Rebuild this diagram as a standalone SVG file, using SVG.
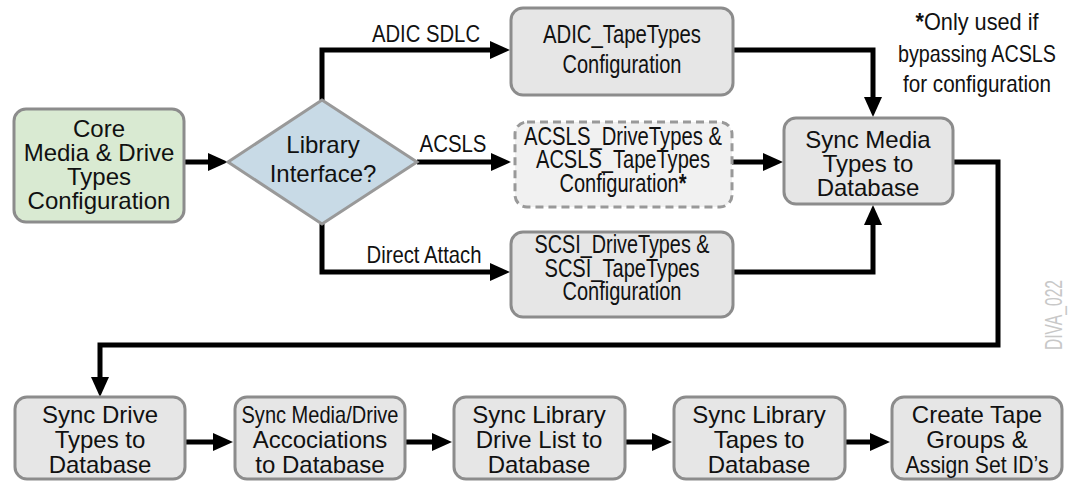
<svg xmlns="http://www.w3.org/2000/svg" width="1070" height="481" viewBox="0 0 1070 481">
<defs>
<marker id="ah" viewBox="0 0 20 18" markerWidth="20" markerHeight="18" refX="8" refY="9" orient="auto" markerUnits="userSpaceOnUse">
<path d="M0,0 L20,9 L0,18 z" fill="#000"/>
</marker>
<style>
.box{fill:#e6e6e6;stroke:#8c8c8c;stroke-width:3}
.core{fill:#d9ead2;stroke:#8c8c8c;stroke-width:3}
.dia{fill:#c8dae6;stroke:#999;stroke-width:3}
.dash{fill:#f1f1f1;stroke:#999;stroke-width:3;stroke-dasharray:8 5}
.con{fill:none;stroke:#000;stroke-width:5;marker-end:url(#ah)}
.t{font-family:"Liberation Sans",Arial,sans-serif;font-size:24px;fill:#111;text-anchor:middle}
.n{font-family:"Liberation Sans",Arial,sans-serif;font-size:25px;fill:#111;text-anchor:middle}
.lbl{font-family:"Liberation Sans",Arial,sans-serif;font-size:24px;fill:#111;text-anchor:middle}
.wm{font-family:"Liberation Sans",Arial,sans-serif;font-size:23px;fill:#c8c8c8;text-anchor:middle}
</style>
</defs>
<rect width="1070" height="481" fill="#fff"/>
<g id="connectors">
<path class="con" d="M184,162 H216"/>
<path class="con" d="M322,100 V50 H498"/>
<path class="con" d="M417,162 H499"/>
<path class="con" d="M322,224 V272 H498"/>
<path class="con" d="M733,50 H873 V105"/>
<path class="con" d="M732,162 H771"/>
<path class="con" d="M733,272 H873 V217"/>
<path class="con" d="M953,162 H998 V345 H100 V385"/>
<path class="con" d="M185,442 H221"/>
<path class="con" d="M405,442 H440"/>
<path class="con" d="M625,442 H660"/>
<path class="con" d="M845,442 H878"/>
<text class="lbl" x="426" y="42" textLength="108" lengthAdjust="spacingAndGlyphs">ADIC SDLC</text>
<text class="lbl" x="453" y="152" textLength="67" lengthAdjust="spacingAndGlyphs">ACSLS</text>
<text class="lbl" x="424" y="263" textLength="115" lengthAdjust="spacingAndGlyphs">Direct Attach</text>
</g>
<g id="core">
<rect class="core" x="14" y="109" width="170" height="113" rx="12"/>
<text class="t" x="99" y="137">Core</text>
<text class="t" x="99" y="161">Media &amp; Drive</text>
<text class="t" x="99" y="185">Types</text>
<text class="t" x="99" y="209">Configuration</text>
</g>
<g id="library">
<polygon class="dia" points="228,162 322,100 417,162 322,224"/>
<text class="t" x="323" y="153">Library</text>
<text class="t" x="323" y="182">Interface?</text>
</g>
<g id="adic">
<rect class="box" x="511" y="8" width="222" height="87" rx="12"/>
<text class="n" x="622" y="43" textLength="158" lengthAdjust="spacingAndGlyphs">ADIC_TapeTypes</text>
<text class="n" x="622" y="73" textLength="119" lengthAdjust="spacingAndGlyphs">Configuration</text>
</g>
<g id="acsls">
<rect class="dash" x="515" y="122" width="217" height="85" rx="12"/>
<text class="n" x="623" y="145" textLength="198" lengthAdjust="spacingAndGlyphs">ACSLS_DriveTypes &amp;</text>
<text class="n" x="623" y="168" textLength="174" lengthAdjust="spacingAndGlyphs">ACSLS_TapeTypes</text>
<text class="n" x="623" y="192" textLength="127" lengthAdjust="spacingAndGlyphs">Configuration<tspan font-weight="bold">*</tspan></text>
</g>
<g id="scsi">
<rect class="box" x="511" y="232" width="222" height="85" rx="12"/>
<text class="n" x="622" y="253" textLength="175" lengthAdjust="spacingAndGlyphs">SCSI_DriveTypes &amp;</text>
<text class="n" x="622" y="277" textLength="155" lengthAdjust="spacingAndGlyphs">SCSI_TapeTypes</text>
<text class="n" x="622" y="300" textLength="119" lengthAdjust="spacingAndGlyphs">Configuration</text>
</g>
<g id="syncmedia">
<rect class="box" x="784" y="118" width="169" height="86" rx="12"/>
<text class="t" x="868" y="148">Sync Media</text>
<text class="t" x="868" y="172">Types to</text>
<text class="t" x="868" y="196">Database</text>
</g>
<g id="note">
<text class="lbl" x="977" y="30" textLength="123" lengthAdjust="spacingAndGlyphs"><tspan font-weight="bold">*</tspan>Only used if</text>
<text class="lbl" x="977" y="62" textLength="158" lengthAdjust="spacingAndGlyphs">bypassing ACSLS</text>
<text class="lbl" x="977" y="92" textLength="148" lengthAdjust="spacingAndGlyphs">for configuration</text>
</g>
<g id="syncdrive">
<rect class="box" x="15" y="397" width="170" height="82" rx="12"/>
<text class="t" x="100" y="423">Sync Drive</text>
<text class="t" x="100" y="448">Types to</text>
<text class="t" x="100" y="473">Database</text>
</g>
<g id="syncassoc">
<rect class="box" x="235" y="397" width="170" height="82" rx="12"/>
<text class="t" x="320" y="423" textLength="157" lengthAdjust="spacingAndGlyphs">Sync Media/Drive</text>
<text class="t" x="320" y="448">Accociations</text>
<text class="t" x="320" y="473">to Database</text>
</g>
<g id="syncdrivelist">
<rect class="box" x="454" y="397" width="171" height="82" rx="12"/>
<text class="t" x="539" y="423">Sync Library</text>
<text class="t" x="539" y="448">Drive List to</text>
<text class="t" x="539" y="473">Database</text>
</g>
<g id="synctapes">
<rect class="box" x="674" y="397" width="171" height="82" rx="12"/>
<text class="t" x="759" y="423">Sync Library</text>
<text class="t" x="759" y="448">Tapes to</text>
<text class="t" x="759" y="473">Database</text>
</g>
<g id="tapegroups">
<rect class="box" x="892" y="397" width="170" height="82" rx="12"/>
<text class="t" x="977" y="423">Create Tape</text>
<text class="t" x="977" y="448">Groups &amp;</text>
<text class="t" x="977" y="473" textLength="143" lengthAdjust="spacingAndGlyphs">Assign Set ID’s</text>
</g>
<text class="wm" transform="translate(1062,315) rotate(-90)" textLength="70" lengthAdjust="spacingAndGlyphs">DIVA_022</text>
</svg>
